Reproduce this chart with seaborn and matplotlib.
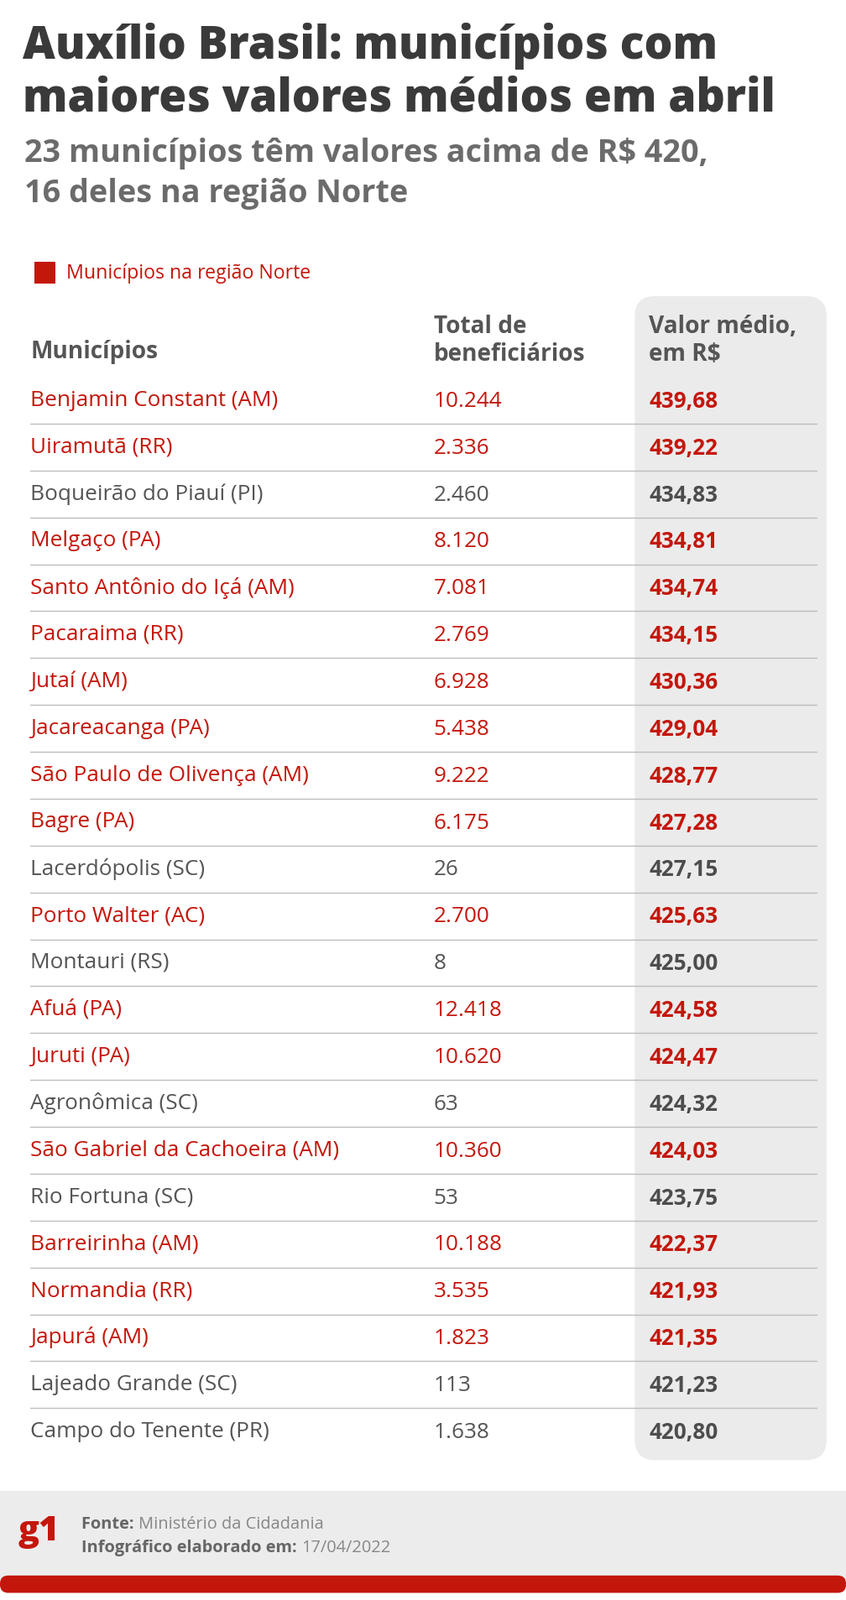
import matplotlib
matplotlib.use("Agg")
import matplotlib.pyplot as plt
import seaborn as sns
import pandas as pd
from matplotlib.patches import FancyBboxPatch, Rectangle

municipios = ["Benjamin Constant (AM)", "Uiramutã (RR)", "Boqueirão do Piauí (PI)", "Melgaço (PA)",
              "Santo Antônio do Içá (AM)", "Pacaraima (RR)", "Jutaí (AM)", "Jacareacanga (PA)",
              "São Paulo de Olivença (AM)", "Bagre (PA)", "Lacerdópolis (SC)", "Porto Walter (AC)",
              "Montauri (RS)", "Afuá (PA)", "Juruti (PA)", "Agronômica (SC)",
              "São Gabriel da Cachoeira (AM)", "Rio Fortuna (SC)", "Barreirinha (AM)", "Normandia (RR)",
              "Japurá (AM)", "Lajeado Grande (SC)", "Campo do Tenente (PR)"]
beneficiarios = ["10.244", "2.336", "2.460", "8.120", "7.081", "2.769", "6.928", "5.438", "9.222",
                 "6.175", "26", "2.700", "8", "12.418", "10.620", "63", "10.360", "53", "10.188",
                 "3.535", "1.823", "113", "1.638"]
valor_medio = ["439,68", "439,22", "434,83", "434,81", "434,74", "434,15", "430,36", "429,04", "428,77",
               "427,28", "427,15", "425,63", "425,00", "424,58", "424,47", "424,32", "424,03", "423,75",
               "422,37", "421,93", "421,35", "421,23", "420,80"]
norte = [True, True, False, True, True, True, True, True, True, True, False, True, False, True, True,
         False, True, False, True, True, True, False, False]

RED = "#c4170c"
GRAY = "#555555"
DARK = "#3a3a3a"
FONT = "Open Sans"
S = 72 / 100 * 1.216  # ref px -> pt

sns.set_theme(style="white", font=FONT)
fig = plt.figure(figsize=(10.08, 19.07), dpi=100)
ax = fig.add_axes([0, 0, 1, 1])
ax.set_xlim(0, 829)
ax.set_ylim(1567, 0)
ax.axis("off")

def T(x, y, s, size, color=DARK, weight="normal", **kw):
    return ax.text(x, y, s, fontsize=size * S, color=color, fontweight=weight, va="center", ha="left", **kw)

T(22, 45, "Auxílio Brasil: municípios com", 44, DARK, "heavy")
T(22, 97, "maiores valores médios em abril", 44, DARK, "heavy")
T(24, 150, "23 municípios têm valores acima de R$ 420,", 31, "#6b6b6b", "bold")
T(24, 190, "16 deles na região Norte", 31, "#6b6b6b", "bold")

sns.scatterplot(x=[44], y=[267], marker="s", s=(21 * S) ** 2, color=RED, edgecolor="none", ax=ax, legend=False)
T(65, 268, "Municípios na região Norte", 19, RED)

ax.add_patch(FancyBboxPatch((622, 290), 188, 1140, boxstyle="round,pad=0,rounding_size=20",
                            facecolor="#ebebeb", edgecolor="none"))
T(30, 345, "Municípios", 23, "#555555", "bold")
T(425, 320, "Total de", 23, "#555555", "bold")
T(425, 347, "beneficiários", 23, "#555555", "bold")
T(636, 320, "Valor médio,", 23, "#555555", "bold")
T(636, 347, "em R$", 23, "#555555", "bold")

df = pd.DataFrame({"m": municipios, "b": beneficiarios, "v": valor_medio, "n": norte})
step = (1402 - 392) / 22
for i, r in df.iterrows():
    y = 392 + i * step
    c = RED if r.n else GRAY
    T(30, y, r.m, 21.5, c)
    T(425, y + 1, r.b, 21.5, c)
    T(636, y + 1, r.v, 21.5, RED if r.n else "#4d4d4d", "bold")
    if i < len(df) - 1:
        ax.plot([30, 800], [y + step / 2, y + step / 2], color="#bdbdbd", lw=1)

ax.add_patch(Rectangle((0, 1460), 829, 95, facecolor="#ececec", edgecolor="none"))
ax.add_patch(FancyBboxPatch((0, 1543), 829, 17, boxstyle="round,pad=0,rounding_size=8",
                            facecolor=RED, edgecolor="none"))
T(18, 1500, "g1", 34, RED, "heavy")
t1 = T(80, 1493, "Fonte: ", 16.5, "#666", "bold")
t2 = T(80, 1516, "Infográfico elaborado em: ", 16.5, "#666", "bold")
fig.canvas.draw()
r = fig.canvas.get_renderer()
inv = ax.transData.inverted()
for t, s, y in [(t1, "Ministério da Cidadania", 1493), (t2, "17/04/2022", 1516)]:
    bb = t.get_window_extent(r)
    x = inv.transform((bb.x1, bb.y0))[0]
    T(x, y, s, 16.5, "#888")

fig.savefig("out.png", dpi=100, facecolor="white")
